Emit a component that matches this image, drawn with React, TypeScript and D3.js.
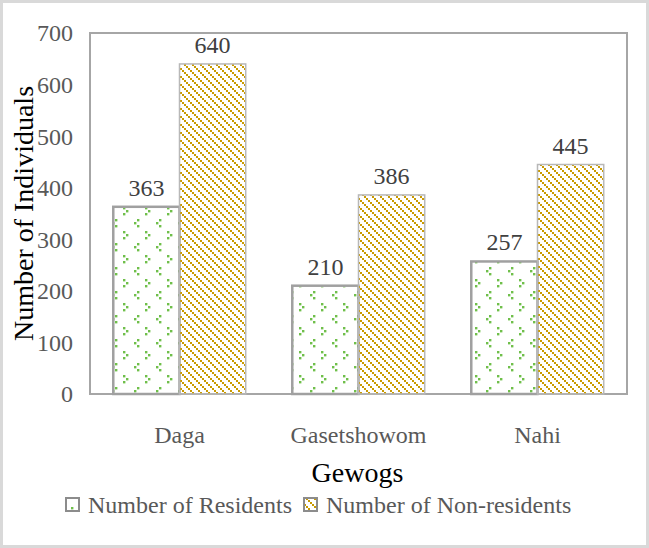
import { useEffect, useRef } from "react";
import * as d3 from "d3";

const gewogs = ["Daga", "Gasetshowom", "Nahi"];
const residents = [363, 210, 257];
const nonResidents = [640, 386, 445];
const seriesNames = ["Number of Residents", "Number of Non-residents"];
const yTicks = [0, 100, 200, 300, 400, 500, 600, 700];

const FONT = "'Liberation Serif', 'Times New Roman', serif";

export default function App() {
    const ref = useRef<SVGSVGElement>(null);

    useEffect(() => {
        const svg = d3.select(ref.current);
        svg.selectAll("*").remove();

        const W = 649, H = 548;
        const plot = { left: 90, top: 33, right: 627, bottom: 394 };

        svg.attr("width", W).attr("height", H);

        // outer frame
        svg.append("rect")
            .attr("x", 1.5).attr("y", 1.5)
            .attr("width", W - 3).attr("height", H - 3)
            .attr("fill", "#fff")
            .attr("stroke", "#d9d9d9")
            .attr("stroke-width", 3);

        const defs = svg.append("defs");

        // residents: small green chevrons
        const pRes = defs.append("pattern")
            .attr("id", "pRes")
            .attr("patternUnits", "userSpaceOnUse")
            .attr("width", 22).attr("height", 24);
        const dotsL = [[3, 0], [0, 3], [3, 6]];
        const dotsR = [[0, 0], [3, 3], [0, 6]];
        dotsL.forEach(([x, y]) => pRes.append("rect").attr("x", 2 + x).attr("y", 3 + y).attr("width", 2.4).attr("height", 2.4).attr("fill", "#6fbf4a"));
        dotsR.forEach(([x, y]) => pRes.append("rect").attr("x", 13 + x).attr("y", 15 + y).attr("width", 2.4).attr("height", 2.4).attr("fill", "#6fbf4a"));

        // non-residents: dotted diagonal lines
        const pNon = defs.append("pattern")
            .attr("id", "pNon")
            .attr("patternUnits", "userSpaceOnUse")
            .attr("width", 8).attr("height", 8);
        [0, 2, 4, 6].forEach(d => {
            pNon.append("rect").attr("x", d).attr("y", d).attr("width", 2).attr("height", 2).attr("fill", "#c99a00");
        });

        const x0 = d3.scaleBand<string>()
            .domain(gewogs)
            .range([plot.left, plot.right])
            .paddingInner(0.26)
            .paddingOuter(0.13);

        const x1 = d3.scaleBand<number>()
            .domain([0, 1])
            .range([0, x0.bandwidth()]);

        const y = d3.scaleLinear()
            .domain([0, 700])
            .range([plot.bottom, plot.top]);

        // plot area border
        svg.append("rect")
            .attr("x", plot.left).attr("y", plot.top)
            .attr("width", plot.right - plot.left)
            .attr("height", plot.bottom - plot.top)
            .attr("fill", "none")
            .attr("stroke", "#a6a6a6")
            .attr("stroke-width", 2);

        const series = [residents, nonResidents];
        const fills = ["url(#pRes)", "url(#pNon)"];

        series.forEach((vals, s) => {
            svg.selectAll(".bar" + s)
                .data(vals)
                .enter()
                .append("rect")
                .attr("x", (d, i) => (x0(gewogs[i]) as number) + (x1(s) as number))
                .attr("y", d => y(d))
                .attr("width", x1.bandwidth())
                .attr("height", d => y(0) - y(d))
                .attr("fill", fills[s])
                .attr("stroke", s === 0 ? "#a0a0a0" : "#b8b8b8")
                .attr("stroke-width", s === 0 ? 2.5 : 1.5);

            svg.selectAll(".val" + s)
                .data(vals)
                .enter()
                .append("text")
                .attr("x", (d, i) => (x0(gewogs[i]) as number) + (x1(s) as number) + x1.bandwidth() / 2)
                .attr("y", d => y(d) - 11)
                .attr("text-anchor", "middle")
                .style("font-family", FONT)
                .style("font-size", "24px")
                .attr("fill", "#404040")
                .text(d => d);
        });

        // y ticks
        svg.selectAll(".ytick")
            .data(yTicks)
            .enter()
            .append("text")
            .attr("x", 73)
            .attr("y", d => y(d))
            .attr("dy", "0.35em")
            .attr("text-anchor", "end")
            .style("font-family", FONT)
            .style("font-size", "24px")
            .attr("fill", "#595959")
            .text(d => d);

        // x labels
        svg.selectAll(".xlab")
            .data(gewogs)
            .enter()
            .append("text")
            .attr("x", d => (x0(d) as number) + x0.bandwidth() / 2)
            .attr("y", 443)
            .attr("text-anchor", "middle")
            .style("font-family", FONT)
            .style("font-size", "24px")
            .attr("fill", "#595959")
            .text(d => d);

        // axis titles
        svg.append("text")
            .attr("x", (plot.left + plot.right) / 2 - 1)
            .attr("y", 482)
            .attr("text-anchor", "middle")
            .style("font-family", FONT)
            .style("font-size", "28px")
            .attr("fill", "#000")
            .text("Gewogs");

        svg.append("text")
            .attr("transform", `translate(33,${(plot.top + plot.bottom) / 2}) rotate(-90)`)
            .attr("text-anchor", "middle")
            .style("font-family", FONT)
            .style("font-size", "28px")
            .attr("fill", "#000")
            .text("Number of Individuals");

        // legend
        const legendX = [66, 304];
        seriesNames.forEach((name, i) => {
            svg.append("rect")
                .attr("x", legendX[i]).attr("y", 498)
                .attr("width", 13).attr("height", 13)
                .attr("fill", fills[i])
                .attr("stroke", "#8c8c8c")
                .attr("stroke-width", 2);
            svg.append("text")
                .attr("x", legendX[i] + 22)
                .attr("y", 513)
                .style("font-family", FONT)
                .style("font-size", "24px")
                .attr("fill", "#595959")
                .text(name);
        });
    }, []);

    return (
        <svg ref={ref} style={{ position: "absolute", left: 0, top: 0, display: "block" }}></svg>
    );
}
